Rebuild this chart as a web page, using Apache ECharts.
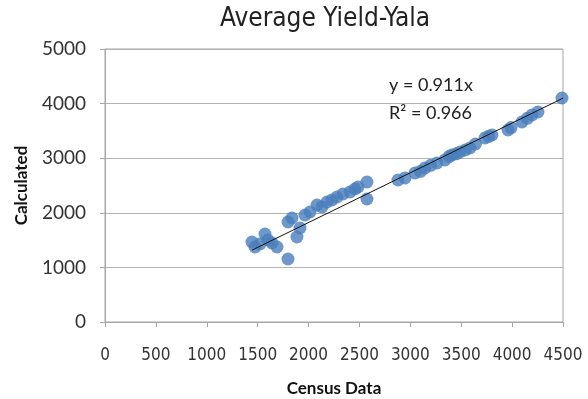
<!DOCTYPE html>
<html>
<head>
<meta charset="utf-8">
<script src="https://cdn.jsdelivr.net/npm/echarts@6/dist/echarts.min.js"></script>
<style>html,body{margin:0;padding:0;background:#fff}#c{width:588px;height:399px}</style>
</head>
<body>
<div id="c"></div>
<script>
var censusX = [1444,1474,1523,1572,1601,1641,1690,1798,1798,1837,1886,1916,1965,2014,2083,2132,2181,2230,2279,2338,2407,2456,2486,2574,2574,
  2879,2948,3046,3100,3144,3200,3262,3340,3380,3409,3450,3488,3540,3586,3640,3734,3770,3802,3960,3990,4097,4150,4195,4254,4490];
var calcY = [1465,1374,1429,1612,1502,1447,1374,1154,1832,1905,1557,1722,1960,2015,2143,2106,2198,2234,2289,2344,2381,2436,2473,2564,2253,
  2601,2637,2729,2760,2821,2870,2912,2967,3030,3059,3080,3114,3150,3187,3260,3370,3400,3425,3516,3560,3663,3730,3791,3846,4103];
var slope = 0.911;
var r2 = 0.966;

var pts = censusX.map(function(x,i){return [x, calcY[i]];});
var xMinData = Math.min.apply(null, censusX);
var trend = [[xMinData, slope*xMinData],[4500, slope*4500]];

var chart = echarts.init(document.getElementById('c'), null, {renderer:'canvas'});
var narrow = "'Liberation Sans Narrow','Arial Narrow','DejaVu Sans Condensed',sans-serif";
function plain(v){return String(v);}
chart.setOption({
  animation:false,
  title:{text:'Average Yield-Yala', left:320, top:1, textAlign:'center',
    textStyle:{fontFamily:narrow, fontSize:26, fontWeight:'normal', color:'#222'}},
  grid:{left:105, right:25, top:49, bottom:77, show:true, borderColor:'#a6a6a6', borderWidth:1,
    containLabel:false, outerBoundsMode:'none'},
  xAxis:{type:'value', min:0, max:4500, interval:500,
    name:'Census Data', nameLocation:'middle', nameGap:58,
    nameTextStyle:{fontFamily:'Lato', fontWeight:'bold', fontSize:17, color:'#111'},
    axisLine:{show:true, lineStyle:{color:'#a6a6a6'}},
    axisTick:{show:true, inside:false, length:5, lineStyle:{color:'#a6a6a6'}},
    axisLabel:{margin:25, fontFamily:narrow, fontSize:17, color:'#333', showMaxLabel:true, formatter:plain},
    splitLine:{show:false}},
  yAxis:{type:'value', min:0, max:5000, interval:1000,
    name:'Calculated', nameLocation:'middle', nameGap:75,
    nameTextStyle:{fontFamily:'Lato', fontWeight:'bold', fontSize:17, color:'#111'},
    axisLine:{show:true, lineStyle:{color:'#a6a6a6'}},
    axisTick:{show:true, inside:false, length:5, lineStyle:{color:'#a6a6a6'}},
    axisLabel:{margin:19, fontFamily:'Lato', fontSize:19, color:'#333', formatter:plain},
    splitLine:{show:true, lineStyle:{color:'#b3b3b3', width:1}}},
  series:[
    {type:'scatter', data:pts, symbol:'circle', symbolSize:13,
      itemStyle:{color:'#4a7ebb'}, z:2},
    {type:'line', data:trend, symbol:'none', lineStyle:{color:'#111', width:1}, z:3}
  ],
  graphic:[
    {type:'text', left:389, top:76, style:{text:'y = ' + slope + 'x', fontFamily:'Lato', fontSize:18, fill:'#222'}},
    {type:'text', left:389, top:104, style:{text:'R\u00b2 = ' + r2, fontFamily:'Lato', fontSize:18, fill:'#222'}}
  ]
});
</script>
</body>
</html>
